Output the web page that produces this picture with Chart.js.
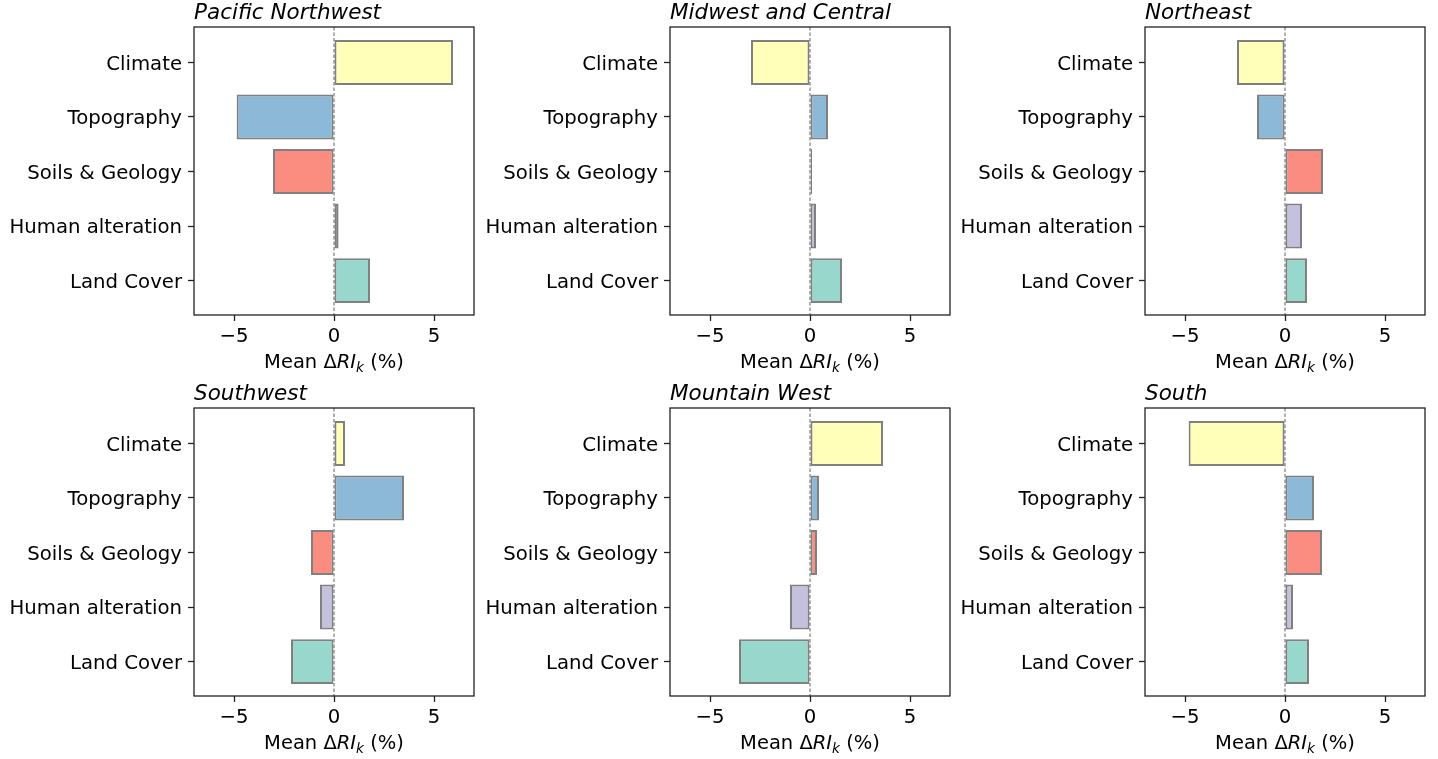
<!DOCTYPE html>
<html>
<head>
<meta charset="utf-8">
<script src="https://cdn.jsdelivr.net/npm/chart.js@4/dist/chart.umd.min.js"></script>
<style>
  body { margin: 0; background: #fff; width: 1438px; height: 759px; position: relative; overflow: hidden; }
  .panel { position: absolute; width: 478px; height: 380px; }
</style>
</head>
<body>
<div class="panel" style="left:0px;top:0px"><canvas id="c0"></canvas></div>
<div class="panel" style="left:476px;top:0px"><canvas id="c1"></canvas></div>
<div class="panel" style="left:951px;top:0px"><canvas id="c2"></canvas></div>
<div class="panel" style="left:0px;top:381px"><canvas id="c3"></canvas></div>
<div class="panel" style="left:476px;top:381px"><canvas id="c4"></canvas></div>
<div class="panel" style="left:951px;top:381px"><canvas id="c5"></canvas></div>
<script>
// данные
const categories = ['Climate', 'Topography', 'Soils & Geology', 'Human alteration', 'Land Cover'];
const regions = ['Pacific Northwest', 'Midwest and Central', 'Northeast', 'Southwest', 'Mountain West', 'South'];
const pacificNorthwest = [5.95, -4.87, -3.05, 0.23, 1.8];
const midwestCentral = [-2.95, 0.9, 0.1, 0.3, 1.6];
const northeast = [-2.4, -1.4, 1.9, 0.85, 1.1];
const southwest = [0.55, 3.5, -1.15, -0.7, -2.15];
const mountainWest = [3.65, 0.45, 0.35, -1.0, -3.55];
const south = [-4.82, 1.45, 1.85, 0.4, 1.2];
const xTicks = [-5, 0, 5];

const seriesList = [pacificNorthwest, midwestCentral, northeast, southwest, mountainWest, south];
const barColors = [
    'rgba(255,255,179,0.9)',
    'rgba(128,177,211,0.9)',
    'rgba(251,128,114,0.9)',
    'rgba(190,186,218,0.9)',
    'rgba(141,211,199,0.9)'
];
const FONT = '"DejaVu Sans", sans-serif';

// рамка, нулевая линия, заголовки
const framePlugin = {
    id: 'frame',
    afterDatasetsDraw(chart, args, opts) {
        const ctx = chart.ctx;
        const a = chart.chartArea;
        const x0 = chart.scales.x.getPixelForValue(0);
        ctx.save();
        ctx.strokeStyle = 'rgba(90,90,90,0.95)';
        ctx.lineWidth = 1;
        ctx.setLineDash([3.5, 2]);
        ctx.beginPath();
        ctx.moveTo(x0, a.top);
        ctx.lineTo(x0, a.bottom);
        ctx.stroke();
        ctx.setLineDash([]);
        ctx.strokeStyle = '#222';
        ctx.lineWidth = 1.3;
        ctx.strokeRect(a.left, a.top, a.right - a.left, a.bottom - a.top);

        ctx.fillStyle = '#000';
        ctx.textBaseline = 'alphabetic';
        ctx.textAlign = 'left';
        ctx.font = 'italic 21.5px ' + FONT;
        ctx.fillText(opts.title, a.left, a.top - 8);

        // Mean ΔRI_k (%)
        const parts = [
            ['Mean Δ', '19.5px ' + FONT, 0],
            ['RI', 'italic 19.5px ' + FONT, 0],
            ['k', 'italic 13.7px ' + FONT, 4],
            [' (%)', '19.5px ' + FONT, 0]
        ];
        let total = 0;
        parts.forEach(p => { ctx.font = p[1]; total += ctx.measureText(p[0]).width; });
        let px = (a.left + a.right) / 2 - total / 2;
        const base = a.bottom + 53;
        parts.forEach(p => {
            ctx.font = p[1];
            ctx.fillText(p[0], px, base + p[2]);
            px += ctx.measureText(p[0]).width;
        });
        ctx.restore();
    }
};

function makeChart(id, title, values) {
    const ctx = document.getElementById(id).getContext('2d');
    return new Chart(ctx, {
        type: 'bar',
        data: {
            datasets: [{
                data: values.map((v, i) => ({ x: v, y: i })),
                backgroundColor: barColors,
                borderColor: '#808080',
                borderWidth: 2,
                borderSkipped: false,
                categoryPercentage: 0.8,
                barPercentage: 1.03
            }]
        },
        options: {
            indexAxis: 'y',
            responsive: true,
            maintainAspectRatio: false,
            animation: false,
            layout: { padding: { top: 27, right: 4, left: 0, bottom: 0 } },
            plugins: {
                legend: { display: false },
                tooltip: { enabled: false },
                frame: { title: title }
            },
            scales: {
                x: {
                    type: 'linear',
                    min: -7,
                    max: 7,
                    offset: false,
                    afterBuildTicks: s => { s.ticks = xTicks.map(v => ({ value: v })); },
                    afterFit: s => { s.height = 65; },
                    border: { display: false },
                    grid: { offset: false, drawOnChartArea: false, drawTicks: true, tickLength: 6, tickColor: '#222', tickWidth: 1.3 },
                    ticks: {
                        color: '#000',
                        padding: 4,
                        font: { family: FONT, size: 19.7 },
                        callback: v => (v < 0 ? '\u2212' + Math.abs(v) : String(v))
                    }
                },
                y: {
                    type: 'linear',
                    reverse: true,
                    min: -0.65,
                    max: 4.63,
                    offset: false,
                    afterBuildTicks: s => { s.ticks = categories.map((c, i) => ({ value: i })); },
                    afterFit: s => { s.width = 194; },
                    border: { display: false },
                    grid: { offset: false, drawOnChartArea: false, drawTicks: true, tickLength: 6, tickColor: '#222', tickWidth: 1.3 },
                    ticks: {
                        color: '#000',
                        padding: 6,
                        labelOffset: 2,
                        font: { family: FONT, size: 19.7 },
                        callback: v => categories[v]
                    }
                }
            }
        },
        plugins: [framePlugin]
    });
}

regions.forEach((r, i) => makeChart('c' + i, r, seriesList[i]));
</script>
</body>
</html>
